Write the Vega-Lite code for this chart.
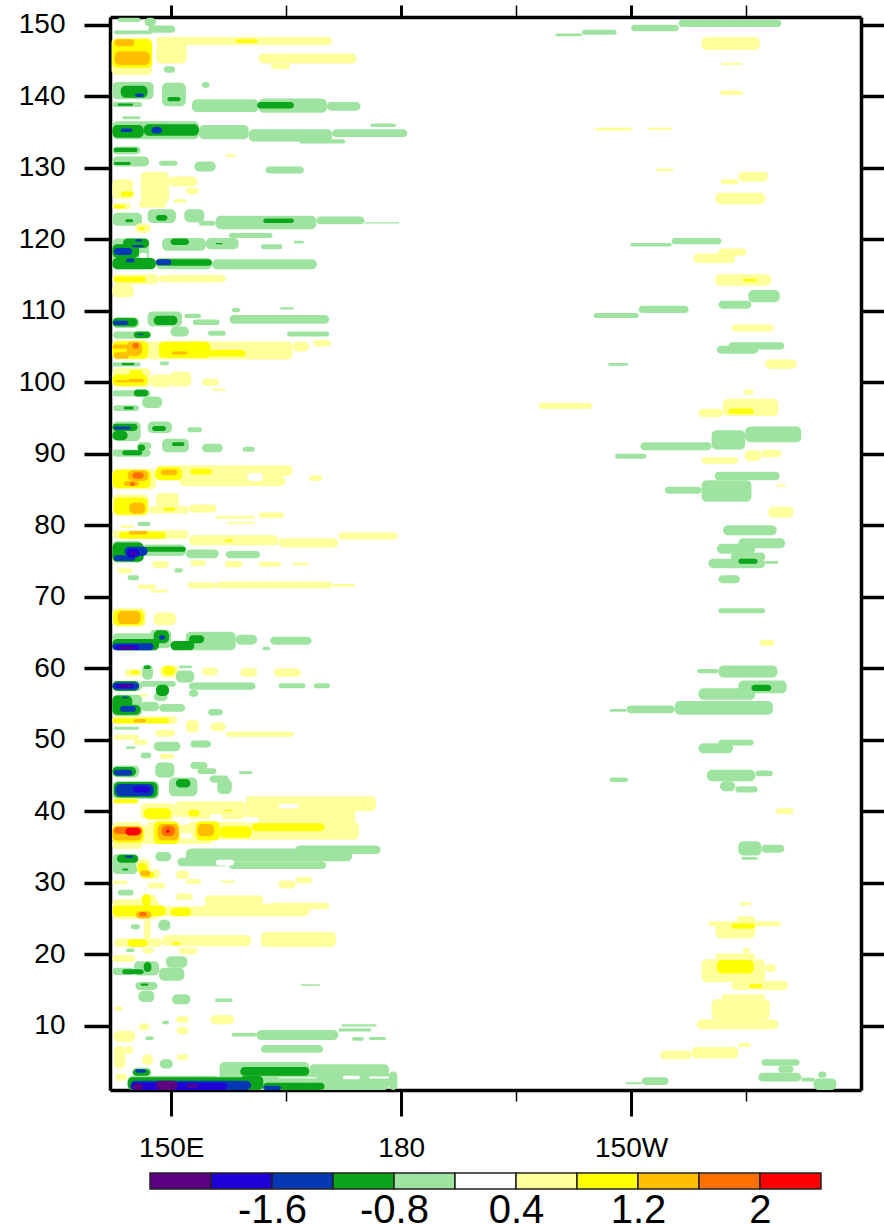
{"$schema":"https://vega.github.io/schema/vega-lite/v6.json","padding":{"left":18,"top":3,"right":0,"bottom":0},"background":"white","autosize":{"type":"pad"},"spacing":10,"config":{"font":"Liberation Sans","view":{"stroke":null}},"vconcat":[{"width":751,"height":1073,"data":{"name":"cells","values":[
{"lon0":143,"lon1":146,"day0":150.4,"day1":151,"level":-1},{"lon0":146.5,"lon1":148,"day0":149.8,"day1":151,"level":-1},{"lon0":147,"lon1":150.5,"day0":148.9,"day1":149.9,"level":-1},{"lon0":142.5,"lon1":147.5,"day0":148.7,"day1":149.2,"level":-1},
{"lon0":142.2,"lon1":147.5,"day0":143,"day1":148.2,"level":1},{"lon0":148,"lon1":171,"day0":147.2,"day1":148.3,"level":1},{"lon0":148,"lon1":152,"day0":144.6,"day1":147.5,"level":1},{"lon0":161.4,"lon1":174.2,"day0":144.6,"day1":146,"level":1},{"lon0":163,"lon1":165.5,"day0":143.8,"day1":144.6,"level":1},{"lon0":149,"lon1":150.5,"day0":143.3,"day1":144.2,"level":-1},{"lon0":154,"lon1":155,"day0":141.2,"day1":142,"level":-1},
{"lon0":142.3,"lon1":147.7,"day0":139.6,"day1":142,"level":-1},{"lon0":142.3,"lon1":146.2,"day0":138.5,"day1":139.2,"level":-1},{"lon0":148.8,"lon1":151.9,"day0":138.6,"day1":141.9,"level":-1},{"lon0":152.7,"lon1":161.4,"day0":137.8,"day1":139.6,"level":-1},{"lon0":161.4,"lon1":170.3,"day0":137.7,"day1":139.7,"level":-1},{"lon0":170.3,"lon1":174.7,"day0":138,"day1":139.2,"level":-1},{"lon0":143.6,"lon1":146,"day0":136.8,"day1":137.2,"level":-1},
{"lon0":142.3,"lon1":153.6,"day0":134,"day1":136.5,"level":-1},{"lon0":153.6,"lon1":160.1,"day0":134,"day1":136,"level":-1},{"lon0":160.1,"lon1":171,"day0":133.7,"day1":135.4,"level":-1},{"lon0":171,"lon1":180.8,"day0":134.3,"day1":135.4,"level":-1},{"lon0":176,"lon1":179.3,"day0":135.7,"day1":136.2,"level":-1},{"lon0":166.7,"lon1":172.7,"day0":133.4,"day1":134,"level":-1},
{"lon0":142.3,"lon1":146,"day0":131.9,"day1":133,"level":-1},{"lon0":142.3,"lon1":147.1,"day0":130.2,"day1":131.6,"level":-1},{"lon0":148.4,"lon1":150.8,"day0":130.3,"day1":131,"level":-1},{"lon0":153,"lon1":155.8,"day0":129.5,"day1":130.9,"level":-1},{"lon0":162.3,"lon1":167.3,"day0":129.2,"day1":130.2,"level":-1},
{"lon0":157.1,"lon1":158.4,"day0":131.5,"day1":131.9,"level":1},{"lon0":146,"lon1":149.7,"day0":125,"day1":129.4,"level":1},{"lon0":149.7,"lon1":153.4,"day0":127.4,"day1":128.8,"level":1},{"lon0":142.3,"lon1":145,"day0":125.6,"day1":128.4,"level":1},{"lon0":145.8,"lon1":149.3,"day0":124.4,"day1":125.3,"level":1},{"lon0":142.3,"lon1":144.7,"day0":124.2,"day1":125.1,"level":1},{"lon0":150.3,"lon1":152,"day0":125.1,"day1":125.6,"level":1},{"lon0":151.9,"lon1":153.6,"day0":126.3,"day1":127.2,"level":1},
{"lon0":142.3,"lon1":146.2,"day0":121.9,"day1":123.7,"level":-1},{"lon0":146.9,"lon1":150.6,"day0":122.3,"day1":124.2,"level":-1},{"lon0":151.7,"lon1":154.3,"day0":122.4,"day1":124.2,"level":-1},{"lon0":153.6,"lon1":155.8,"day0":121.9,"day1":122.6,"level":-1},{"lon0":155.8,"lon1":168.9,"day0":121.4,"day1":123.3,"level":-1},{"lon0":168.9,"lon1":175.2,"day0":122.1,"day1":123.2,"level":-1},{"lon0":175.2,"lon1":179.7,"day0":122.2,"day1":122.4,"level":-1},{"lon0":145.3,"lon1":147.3,"day0":120.9,"day1":122.2,"level":1},
{"lon0":142.3,"lon1":147.1,"day0":115.8,"day1":120.1,"level":-1},{"lon0":155.3,"lon1":169,"day0":115.8,"day1":117.2,"level":-1},{"lon0":148,"lon1":155.3,"day0":115.8,"day1":117.4,"level":-1},{"lon0":148.8,"lon1":154.5,"day0":118.4,"day1":120.2,"level":-1},{"lon0":154.5,"lon1":158.8,"day0":118.6,"day1":120.2,"level":-1},{"lon0":157.5,"lon1":163.2,"day0":120.2,"day1":120.9,"level":-1},{"lon0":161.7,"lon1":164.5,"day0":118.6,"day1":119.3,"level":-1},{"lon0":166,"lon1":167.3,"day0":119.4,"day1":119.8,"level":-1},
{"lon0":142.3,"lon1":148.4,"day0":113.7,"day1":115.1,"level":1},{"lon0":148.4,"lon1":157.1,"day0":114,"day1":115,"level":1},{"lon0":142.3,"lon1":145.1,"day0":111.9,"day1":113.7,"level":1},
{"lon0":142.3,"lon1":145.8,"day0":107.6,"day1":109.1,"level":-1},{"lon0":146.9,"lon1":151.4,"day0":107.8,"day1":109.9,"level":-1},{"lon0":149.9,"lon1":152.3,"day0":106.4,"day1":107.8,"level":-1},{"lon0":151.7,"lon1":153.9,"day0":109,"day1":109.6,"level":-1},{"lon0":152.8,"lon1":156.3,"day0":108,"day1":108.8,"level":-1},{"lon0":157.6,"lon1":170.6,"day0":108.2,"day1":109.4,"level":-1},{"lon0":157.9,"lon1":159,"day0":109.8,"day1":110.4,"level":-1},{"lon0":164.2,"lon1":166,"day0":110.2,"day1":110.5,"level":-1},{"lon0":165.1,"lon1":170.6,"day0":106.4,"day1":107.1,"level":-1},{"lon0":154.8,"lon1":157.1,"day0":106.5,"day1":107.2,"level":-1},{"lon0":142.4,"lon1":147.3,"day0":106.1,"day1":107.1,"level":-1},
{"lon0":142.3,"lon1":147.1,"day0":103.2,"day1":105.9,"level":1},{"lon0":146.8,"lon1":165.8,"day0":103.2,"day1":105.7,"level":1},{"lon0":165.8,"lon1":168,"day0":104.3,"day1":105.7,"level":1},{"lon0":168.5,"lon1":170.8,"day0":105,"day1":105.9,"level":1},{"lon0":142.3,"lon1":146,"day0":102.2,"day1":102.8,"level":-1},{"lon0":148.5,"lon1":149.7,"day0":102.4,"day1":102.9,"level":-1},
{"lon0":142.3,"lon1":147.3,"day0":99.3,"day1":102,"level":1},{"lon0":147.3,"lon1":150,"day0":99.3,"day1":101.1,"level":1},{"lon0":149.8,"lon1":152.6,"day0":99.4,"day1":101.5,"level":1},{"lon0":154,"lon1":156.2,"day0":99.5,"day1":100.5,"level":1},{"lon0":155.3,"lon1":157.1,"day0":98.8,"day1":99.1,"level":1},
{"lon0":142.3,"lon1":147.3,"day0":98,"day1":98.9,"level":-1},{"lon0":146.2,"lon1":148.8,"day0":96.4,"day1":98,"level":-1},{"lon0":142.4,"lon1":145.8,"day0":96,"day1":96.8,"level":-1},{"lon0":142.3,"lon1":146,"day0":91.8,"day1":94.5,"level":-1},{"lon0":146.9,"lon1":150.1,"day0":92.9,"day1":94.5,"level":-1},{"lon0":152.1,"lon1":154,"day0":93,"day1":93.7,"level":-1},{"lon0":142.3,"lon1":147.3,"day0":89.6,"day1":90.6,"level":-1},{"lon0":145.6,"lon1":147.4,"day0":90.6,"day1":91.6,"level":-1},{"lon0":148.8,"lon1":152.3,"day0":90.2,"day1":92.1,"level":-1},{"lon0":154,"lon1":156.7,"day0":90.2,"day1":91.4,"level":-1},{"lon0":159.3,"lon1":160.9,"day0":90.3,"day1":91,"level":-1},
{"lon0":142.3,"lon1":148,"day0":85,"day1":87.8,"level":1},{"lon0":148,"lon1":165.8,"day0":86.9,"day1":88.4,"level":1},{"lon0":151,"lon1":164.9,"day0":85.5,"day1":86.9,"level":1},{"lon0":168,"lon1":169.7,"day0":86.2,"day1":87,"level":1},{"lon0":142.3,"lon1":147.1,"day0":81.3,"day1":84.3,"level":1},{"lon0":148,"lon1":151,"day0":82.5,"day1":84.5,"level":1},{"lon0":147.1,"lon1":152.3,"day0":81.6,"day1":82.7,"level":1},{"lon0":152.3,"lon1":155.9,"day0":81.8,"day1":82.9,"level":1},{"lon0":155.8,"lon1":160.9,"day0":80.9,"day1":81.3,"level":1},{"lon0":161.4,"lon1":164.7,"day0":81,"day1":81.8,"level":1},{"lon0":157.2,"lon1":160.9,"day0":80.2,"day1":80.5,"level":1},{"lon0":145.6,"lon1":147.3,"day0":79.9,"day1":80.5,"level":-1},{"lon0":143.4,"lon1":145.1,"day0":79.6,"day1":80,"level":1},
{"lon0":142.3,"lon1":152.3,"day0":78.1,"day1":79.3,"level":1},{"lon0":152.3,"lon1":164,"day0":77.2,"day1":78.6,"level":1},{"lon0":164,"lon1":171.8,"day0":76.9,"day1":78.2,"level":1},{"lon0":171.8,"lon1":179.5,"day0":78,"day1":79,"level":1},
{"lon0":142.3,"lon1":146.2,"day0":74.8,"day1":77.8,"level":-1},{"lon0":146.2,"lon1":151.9,"day0":75.7,"day1":77.3,"level":-1},{"lon0":151.9,"lon1":156.2,"day0":75.4,"day1":76.6,"level":-1},{"lon0":157.1,"lon1":161.6,"day0":75.4,"day1":76.4,"level":-1},
{"lon0":147.5,"lon1":149.7,"day0":74,"day1":75,"level":1},{"lon0":152.5,"lon1":154.5,"day0":74.3,"day1":75.1,"level":1},{"lon0":157,"lon1":159.3,"day0":74.1,"day1":75,"level":1},{"lon0":161.4,"lon1":164.3,"day0":74.2,"day1":74.9,"level":1},{"lon0":165.8,"lon1":168,"day0":74.4,"day1":74.8,"level":1},{"lon0":143,"lon1":144.9,"day0":73.3,"day1":74,"level":1},{"lon0":150.4,"lon1":151.5,"day0":73.4,"day1":74,"level":-1},{"lon0":144.3,"lon1":145.8,"day0":72.3,"day1":73,"level":-1},
{"lon0":145.6,"lon1":148,"day0":71.1,"day1":71.7,"level":1},{"lon0":152.1,"lon1":155.8,"day0":71.2,"day1":72,"level":1},{"lon0":155.8,"lon1":171,"day0":71.2,"day1":72.1,"level":1},{"lon0":171,"lon1":174,"day0":71.4,"day1":71.8,"level":1},{"lon0":147.3,"lon1":149.5,"day0":70.6,"day1":71,"level":1},
{"lon0":142.3,"lon1":146.7,"day0":65.8,"day1":68.4,"level":1},{"lon0":147.7,"lon1":150.6,"day0":66,"day1":67.8,"level":1},
{"lon0":142.3,"lon1":148.4,"day0":62.5,"day1":64.9,"level":-1},{"lon0":147.2,"lon1":150,"day0":62.8,"day1":65.4,"level":-1},{"lon0":151.9,"lon1":158.4,"day0":62.5,"day1":65.1,"level":-1},{"lon0":158.4,"lon1":161.2,"day0":63.3,"day1":64.7,"level":-1},{"lon0":162.9,"lon1":168.3,"day0":63.3,"day1":64.4,"level":-1},{"lon0":161.9,"lon1":162.9,"day0":62.5,"day1":63,"level":-1},
{"lon0":143.9,"lon1":146.2,"day0":58.8,"day1":59.9,"level":1},{"lon0":146.2,"lon1":147.6,"day0":58.4,"day1":60.5,"level":-1},{"lon0":148.5,"lon1":151,"day0":58.7,"day1":60.4,"level":1},{"lon0":151,"lon1":152.7,"day0":60,"day1":60.4,"level":-1},{"lon0":150.6,"lon1":153,"day0":58,"day1":59.7,"level":-1},{"lon0":154,"lon1":156.1,"day0":59,"day1":60.1,"level":1},{"lon0":159,"lon1":161.2,"day0":58.8,"day1":60,"level":1},{"lon0":163.4,"lon1":166.9,"day0":58.8,"day1":60,"level":1},
{"lon0":142.3,"lon1":146.2,"day0":56.8,"day1":58.2,"level":-1},{"lon0":146,"lon1":150.6,"day0":57.4,"day1":58.2,"level":-1},{"lon0":147.7,"lon1":149.5,"day0":55.4,"day1":56.6,"level":-1},{"lon0":152.3,"lon1":161,"day0":57,"day1":58,"level":-1},{"lon0":152.3,"lon1":153.5,"day0":56,"day1":57,"level":-1},{"lon0":164,"lon1":167.5,"day0":57.2,"day1":57.9,"level":-1},{"lon0":168.6,"lon1":170.7,"day0":57.2,"day1":57.9,"level":-1},{"lon0":145.7,"lon1":146.9,"day0":56,"day1":56.4,"level":1},
{"lon0":142.3,"lon1":146.2,"day0":53.3,"day1":56.3,"level":-1},{"lon0":146,"lon1":148.4,"day0":54,"day1":55.3,"level":-1},{"lon0":148.4,"lon1":151.8,"day0":53.9,"day1":55,"level":-1},{"lon0":154.8,"lon1":156.7,"day0":53.4,"day1":54.3,"level":-1},
{"lon0":142.3,"lon1":150.8,"day0":52.2,"day1":53.3,"level":1},{"lon0":151.9,"lon1":153.6,"day0":51,"day1":52.8,"level":1},{"lon0":155.1,"lon1":157.1,"day0":51.2,"day1":52.4,"level":1},{"lon0":157.1,"lon1":166,"day0":50.4,"day1":51.1,"level":1},{"lon0":142.5,"lon1":145.8,"day0":51.4,"day1":51.8,"level":-1},{"lon0":147.9,"lon1":150.5,"day0":50.4,"day1":51.4,"level":1},{"lon0":142.5,"lon1":145.8,"day0":50,"day1":50.7,"level":1},{"lon0":145.1,"lon1":146.9,"day0":49.3,"day1":50,"level":1},
{"lon0":147.7,"lon1":151.2,"day0":48.4,"day1":49.7,"level":-1},{"lon0":152.5,"lon1":155.2,"day0":48.9,"day1":49.9,"level":-1},{"lon0":144.1,"lon1":145.3,"day0":48.7,"day1":49.1,"level":-1},{"lon0":146,"lon1":147.4,"day0":47.4,"day1":48.2,"level":-1},{"lon0":148.5,"lon1":150.4,"day0":47.3,"day1":48,"level":1},
{"lon0":142.3,"lon1":145.8,"day0":44.7,"day1":46.4,"level":-1},{"lon0":147.9,"lon1":150.4,"day0":44.7,"day1":46.8,"level":-1},{"lon0":149.7,"lon1":153.4,"day0":42.1,"day1":44.7,"level":-1},{"lon0":152.5,"lon1":154.7,"day0":45.9,"day1":46.9,"level":-1},{"lon0":153.4,"lon1":155.9,"day0":45.2,"day1":46,"level":-1},{"lon0":155,"lon1":157.5,"day0":44,"day1":45,"level":-1},{"lon0":156,"lon1":157.9,"day0":42.4,"day1":44.5,"level":-1},{"lon0":158.8,"lon1":160.6,"day0":45.2,"day1":45.6,"level":-1},{"lon0":142.3,"lon1":148.4,"day0":41.7,"day1":44.2,"level":-1},{"lon0":142.3,"lon1":145.8,"day0":41.1,"day1":41.8,"level":1},
{"lon0":159.7,"lon1":176.7,"day0":40,"day1":42.1,"level":1},{"lon0":146,"lon1":150.4,"day0":38.7,"day1":41.1,"level":1},{"lon0":150.4,"lon1":159.7,"day0":38.9,"day1":41.4,"level":1},{"lon0":159.7,"lon1":174,"day0":38,"day1":40.3,"level":1},{"lon0":142.3,"lon1":174.5,"day0":36,"day1":38.5,"level":1},{"lon0":142.3,"lon1":146.2,"day0":34.7,"day1":36,"level":1},{"lon0":146.2,"lon1":155.3,"day0":35.4,"day1":36,"level":1},
{"lon0":142.3,"lon1":145.6,"day0":31.2,"day1":34,"level":-1},{"lon0":147.9,"lon1":150,"day0":33,"day1":34.3,"level":-1},{"lon0":150.8,"lon1":157.5,"day0":32.3,"day1":33.5,"level":-1},{"lon0":151.9,"lon1":173.6,"day0":33,"day1":34.8,"level":-1},{"lon0":157.5,"lon1":170.2,"day0":31.9,"day1":33,"level":-1},{"lon0":166.2,"lon1":177.3,"day0":34,"day1":35.2,"level":-1},
{"lon0":145.4,"lon1":147.3,"day0":31.7,"day1":33.3,"level":1},{"lon0":146,"lon1":148.6,"day0":30.5,"day1":31.9,"level":1},{"lon0":150.6,"lon1":152.3,"day0":30.5,"day1":31.7,"level":1},{"lon0":151.9,"lon1":153.9,"day0":29.8,"day1":30.5,"level":1},{"lon0":146.9,"lon1":149.2,"day0":29.2,"day1":30,"level":1},{"lon0":142.3,"lon1":144.3,"day0":29.8,"day1":30.3,"level":1},{"lon0":156.4,"lon1":158.3,"day0":30,"day1":30.3,"level":1},{"lon0":164,"lon1":166.2,"day0":29.2,"day1":30.3,"level":1},{"lon0":166.2,"lon1":168.4,"day0":29.9,"day1":30.8,"level":1},{"lon0":143,"lon1":145.1,"day0":28.2,"day1":29,"level":-1},
{"lon0":142.3,"lon1":148.4,"day0":24.9,"day1":27.7,"level":1},{"lon0":146,"lon1":148,"day0":27,"day1":28.4,"level":1},{"lon0":150.6,"lon1":152.8,"day0":27.6,"day1":28.5,"level":1},{"lon0":148.4,"lon1":168,"day0":25.3,"day1":26.7,"level":1},{"lon0":154.3,"lon1":162,"day0":27,"day1":28.2,"level":1},{"lon0":154.3,"lon1":162.9,"day0":26.5,"day1":27.1,"level":1},{"lon0":162.9,"lon1":170.6,"day0":26.3,"day1":27.2,"level":1},{"lon0":148.3,"lon1":149.9,"day0":23.3,"day1":24.8,"level":-1},{"lon0":144.7,"lon1":145.9,"day0":23.5,"day1":24.2,"level":-1},
{"lon0":146.4,"lon1":147.3,"day0":22.1,"day1":24.9,"level":1},{"lon0":142.5,"lon1":148.8,"day0":21,"day1":22.2,"level":1},{"lon0":148.8,"lon1":160.4,"day0":21.1,"day1":22.7,"level":1},{"lon0":161.7,"lon1":171.5,"day0":21,"day1":23.1,"level":1},{"lon0":146.2,"lon1":147.7,"day0":20.1,"day1":20.9,"level":1},{"lon0":144.1,"lon1":145.2,"day0":20.3,"day1":20.8,"level":-1},{"lon0":151,"lon1":153.4,"day0":20,"day1":20.9,"level":1},{"lon0":142.3,"lon1":145.3,"day0":18.9,"day1":19.9,"level":1},
{"lon0":142.3,"lon1":145.1,"day0":17.1,"day1":18.1,"level":-1},{"lon0":145.1,"lon1":148.4,"day0":17,"day1":19,"level":-1},{"lon0":149.3,"lon1":152.1,"day0":18.1,"day1":19.7,"level":-1},{"lon0":148.4,"lon1":151.7,"day0":16.3,"day1":18.1,"level":-1},{"lon0":166.9,"lon1":169.4,"day0":15.6,"day1":15.8,"level":-1},{"lon0":145.3,"lon1":148.2,"day0":15,"day1":16.1,"level":-1},{"lon0":145.7,"lon1":147.8,"day0":13.3,"day1":14.9,"level":-1},{"lon0":150.1,"lon1":152.5,"day0":13,"day1":14.4,"level":-1},{"lon0":155.7,"lon1":158,"day0":13.3,"day1":13.8,"level":-1},
{"lon0":142.6,"lon1":143.6,"day0":12.1,"day1":12.7,"level":1},{"lon0":155.1,"lon1":158.2,"day0":10.2,"day1":11.5,"level":1},{"lon0":150.6,"lon1":152.3,"day0":10.4,"day1":11.3,"level":1},{"lon0":145.8,"lon1":147.1,"day0":9.3,"day1":10.3,"level":1},{"lon0":148.8,"lon1":149.7,"day0":10.2,"day1":10.7,"level":-1},{"lon0":150.7,"lon1":152.2,"day0":8.8,"day1":9.8,"level":1},{"lon0":142.5,"lon1":145.3,"day0":7.7,"day1":9.3,"level":1},{"lon0":146.6,"lon1":147.7,"day0":8,"day1":8.5,"level":-1},{"lon0":142.5,"lon1":144,"day0":4,"day1":7.2,"level":1},{"lon0":144,"lon1":145,"day0":6,"day1":7.2,"level":1},{"lon0":146.2,"lon1":147.6,"day0":4.5,"day1":6,"level":1},{"lon0":150.7,"lon1":152.2,"day0":5.2,"day1":6,"level":1},{"lon0":148.5,"lon1":150.2,"day0":4,"day1":5.3,"level":-1},{"lon0":142.7,"lon1":144.2,"day0":2.3,"day1":3.3,"level":1},
{"lon0":157.9,"lon1":161.1,"day0":8.5,"day1":9,"level":-1},{"lon0":161.1,"lon1":171.8,"day0":8,"day1":9.4,"level":-1},{"lon0":171.8,"lon1":176.1,"day0":9.2,"day1":9.6,"level":-1},{"lon0":172.2,"lon1":176.8,"day0":9.9,"day1":10.2,"level":-1},{"lon0":173.6,"lon1":175.1,"day0":7.9,"day1":8.4,"level":-1},{"lon0":175.8,"lon1":178,"day0":8,"day1":8.4,"level":-1},{"lon0":161.7,"lon1":169.8,"day0":6.2,"day1":7.3,"level":-1},
{"lon0":144.3,"lon1":156.3,"day0":1,"day1":3,"level":-1},{"lon0":156.3,"lon1":168,"day0":1,"day1":4.9,"level":-1},{"lon0":168,"lon1":178.4,"day0":1,"day1":4.6,"level":-1},{"lon0":178.4,"lon1":179.5,"day0":1,"day1":3.6,"level":-1},{"lon0":144.9,"lon1":147.4,"day0":2.9,"day1":4.1,"level":-1},
{"lon0":200.1,"lon1":203.6,"day0":148.4,"day1":148.8,"level":-1},{"lon0":203.6,"lon1":208.1,"day0":148.6,"day1":149.3,"level":-1},{"lon0":210,"lon1":216.2,"day0":149.1,"day1":150,"level":-1},{"lon0":216.2,"lon1":229.6,"day0":149.7,"day1":150.7,"level":-1},{"lon0":219.2,"lon1":226.8,"day0":146.5,"day1":148.3,"level":1},{"lon0":221.8,"lon1":224.4,"day0":144.4,"day1":144.7,"level":1},{"lon0":221.6,"lon1":224.6,"day0":140.2,"day1":140.8,"level":1},{"lon0":205.3,"lon1":210.1,"day0":135.2,"day1":135.6,"level":1},{"lon0":212.2,"lon1":215.3,"day0":135.3,"day1":135.6,"level":1},{"lon0":213.2,"lon1":215.5,"day0":129.6,"day1":129.9,"level":1},{"lon0":221.7,"lon1":224,"day0":127.7,"day1":128.4,"level":1},{"lon0":224,"lon1":227.9,"day0":128.1,"day1":129.4,"level":1},{"lon0":221,"lon1":227.5,"day0":124.9,"day1":126.5,"level":1},{"lon0":209.9,"lon1":215.3,"day0":119,"day1":119.5,"level":-1},{"lon0":215.3,"lon1":221.8,"day0":119.3,"day1":120.2,"level":-1},{"lon0":218.1,"lon1":223.6,"day0":116.7,"day1":118,"level":1},{"lon0":221.4,"lon1":225,"day0":117.7,"day1":118.7,"level":1},{"lon0":221,"lon1":228.3,"day0":113.5,"day1":115.1,"level":1},{"lon0":225.3,"lon1":229.4,"day0":111.2,"day1":112.9,"level":-1},{"lon0":221.4,"lon1":225.7,"day0":110.3,"day1":111.4,"level":-1},{"lon0":205.1,"lon1":211,"day0":109,"day1":109.7,"level":-1},{"lon0":211,"lon1":217.5,"day0":109.7,"day1":110.7,"level":-1},{"lon0":223.1,"lon1":228.6,"day0":107.1,"day1":108.1,"level":1},{"lon0":221.2,"lon1":226.6,"day0":104,"day1":105.1,"level":-1},{"lon0":222.7,"lon1":230,"day0":104.6,"day1":105.6,"level":-1},{"lon0":227.5,"lon1":231.6,"day0":101.9,"day1":103.2,"level":1},{"lon0":207,"lon1":209.6,"day0":102.3,"day1":102.7,"level":-1},{"lon0":224.7,"lon1":226,"day0":98.3,"day1":99,"level":1},{"lon0":222,"lon1":229.2,"day0":95.3,"day1":97.7,"level":1},{"lon0":218.8,"lon1":222,"day0":95.1,"day1":96.3,"level":1},{"lon0":197.9,"lon1":204.9,"day0":96.3,"day1":97.1,"level":1},
{"lon0":211.2,"lon1":220.5,"day0":90.5,"day1":91.6,"level":-1},{"lon0":220.5,"lon1":224.9,"day0":90.6,"day1":93.3,"level":-1},{"lon0":224.9,"lon1":232.2,"day0":91.6,"day1":93.8,"level":-1},{"lon0":207.9,"lon1":212,"day0":89.3,"day1":90,"level":-1},{"lon0":219.2,"lon1":224,"day0":88.6,"day1":89.5,"level":1},{"lon0":224.8,"lon1":227,"day0":89,"day1":90.5,"level":1},{"lon0":227,"lon1":229.6,"day0":89.5,"day1":90.6,"level":1},{"lon0":220.9,"lon1":229.4,"day0":86.3,"day1":87.5,"level":-1},{"lon0":219.2,"lon1":225.7,"day0":83.3,"day1":86.3,"level":-1},{"lon0":214.4,"lon1":219.2,"day0":84.4,"day1":85.4,"level":-1},{"lon0":229,"lon1":230.2,"day0":85.4,"day1":85.7,"level":1},{"lon0":227.9,"lon1":231.2,"day0":81.1,"day1":82.6,"level":1},{"lon0":222,"lon1":229,"day0":78.6,"day1":80,"level":-1},{"lon0":224,"lon1":230.1,"day0":76.8,"day1":78.2,"level":-1},{"lon0":221.2,"lon1":226.2,"day0":76,"day1":77.4,"level":-1},{"lon0":220.1,"lon1":227.5,"day0":74,"day1":75.3,"level":-1},{"lon0":223,"lon1":227.5,"day0":75,"day1":76.2,"level":-1},{"lon0":227.5,"lon1":229.2,"day0":74.6,"day1":75,"level":-1},{"lon0":221.4,"lon1":224.2,"day0":71.9,"day1":73,"level":-1},{"lon0":221.4,"lon1":227.5,"day0":67.7,"day1":68.4,"level":-1},{"lon0":226.8,"lon1":228.7,"day0":63.1,"day1":64,"level":1},{"lon0":221.4,"lon1":229.1,"day0":58.7,"day1":60.4,"level":-1},{"lon0":218.6,"lon1":221.4,"day0":59.3,"day1":59.9,"level":-1},{"lon0":224,"lon1":230.3,"day0":56.5,"day1":58.3,"level":-1},{"lon0":218.8,"lon1":226.2,"day0":55.6,"day1":57.2,"level":-1},{"lon0":215.7,"lon1":228.5,"day0":53.5,"day1":55.4,"level":-1},{"lon0":209.4,"lon1":215.7,"day0":53.7,"day1":54.8,"level":-1},{"lon0":207.2,"lon1":209.4,"day0":53.9,"day1":54.3,"level":-1},{"lon0":218.8,"lon1":223.3,"day0":48.1,"day1":49.5,"level":-1},{"lon0":221.4,"lon1":226,"day0":49.2,"day1":50,"level":-1},{"lon0":219.9,"lon1":226.2,"day0":44.2,"day1":45.8,"level":-1},{"lon0":226.2,"lon1":228.5,"day0":44.9,"day1":45.7,"level":-1},{"lon0":221.6,"lon1":223.6,"day0":42.8,"day1":44.2,"level":-1},{"lon0":223.6,"lon1":226.5,"day0":42.6,"day1":43.5,"level":-1},{"lon0":207.2,"lon1":209.6,"day0":44.1,"day1":44.7,"level":-1},{"lon0":228.9,"lon1":231.2,"day0":39.6,"day1":40.4,"level":1},
{"lon0":224,"lon1":227,"day0":33.8,"day1":35.8,"level":-1},{"lon0":227,"lon1":230,"day0":34.2,"day1":35.3,"level":-1},{"lon0":224.4,"lon1":226.5,"day0":33.2,"day1":33.6,"level":-1},{"lon0":224.2,"lon1":225.7,"day0":26.8,"day1":27.3,"level":1},{"lon0":221,"lon1":226.2,"day0":22.2,"day1":24.4,"level":1},{"lon0":223.8,"lon1":226.2,"day0":24.4,"day1":25.3,"level":1},{"lon0":220.1,"lon1":229.6,"day0":23.9,"day1":24.6,"level":1},{"lon0":219.2,"lon1":227.5,"day0":16.1,"day1":19.3,"level":1},{"lon0":221,"lon1":226.2,"day0":19.3,"day1":20.1,"level":1},{"lon0":224.6,"lon1":225.5,"day0":20.1,"day1":20.9,"level":1},{"lon0":227.5,"lon1":228.9,"day0":17.5,"day1":18.6,"level":1},{"lon0":223.1,"lon1":230.5,"day0":15,"day1":16.3,"level":1},{"lon0":220.5,"lon1":228.1,"day0":10.9,"day1":13.7,"level":1},{"lon0":221.8,"lon1":227.5,"day0":13.7,"day1":14.4,"level":1},{"lon0":218.6,"lon1":229.2,"day0":9.5,"day1":10.9,"level":1},{"lon0":213.8,"lon1":217.9,"day0":5.3,"day1":6.5,"level":1},{"lon0":217.9,"lon1":224,"day0":5.4,"day1":7,"level":1},{"lon0":224,"lon1":225.6,"day0":7,"day1":7.6,"level":1},{"lon0":211.4,"lon1":214.9,"day0":1.7,"day1":2.8,"level":-1},{"lon0":209.3,"lon1":211.4,"day0":1.8,"day1":2.1,"level":-1},{"lon0":227,"lon1":232,"day0":4.4,"day1":5.3,"level":-1},{"lon0":229.2,"lon1":231.2,"day0":3.4,"day1":4.4,"level":-1},{"lon0":226.6,"lon1":232.2,"day0":2.2,"day1":3.4,"level":-1},{"lon0":233.8,"lon1":236.8,"day0":1,"day1":2.6,"level":-1},{"lon0":232.2,"lon1":234,"day0":2.2,"day1":2.7,"level":-1},{"lon0":234.4,"lon1":235.5,"day0":2.7,"day1":3.6,"level":-1},
{"lon0":145.8,"lon1":146.9,"day0":117.3,"day1":118.1,"level":0},{"lon0":159.9,"lon1":162,"day0":86.2,"day1":87.3,"level":0},{"lon0":164,"lon1":166.6,"day0":40.4,"day1":41,"level":0},{"lon0":159.3,"lon1":161.4,"day0":38.4,"day1":39.2,"level":0},{"lon0":155,"lon1":156.7,"day0":38.7,"day1":39.6,"level":0},{"lon0":150.4,"lon1":152.5,"day0":38.1,"day1":39.2,"level":0},{"lon0":151.2,"lon1":152.7,"day0":36.2,"day1":36.9,"level":0},{"lon0":146,"lon1":147,"day0":38,"day1":39,"level":0},{"lon0":155.8,"lon1":158.2,"day0":32.4,"day1":33.2,"level":0},{"lon0":164,"lon1":169,"day0":2.65,"day1":2.8,"level":0},{"lon0":172.4,"lon1":174.6,"day0":2.5,"day1":3,"level":0},{"lon0":175.8,"lon1":178.4,"day0":2.6,"day1":2.9,"level":0},
{"lon0":142.3,"lon1":147.5,"day0":144,"day1":148,"level":2},{"lon0":158.4,"lon1":161.2,"day0":147.5,"day1":148,"level":2},{"lon0":143.4,"lon1":145.1,"day0":126,"day1":126.7,"level":2},{"lon0":142.5,"lon1":144,"day0":124.3,"day1":124.8,"level":2},{"lon0":145.7,"lon1":146.6,"day0":121.3,"day1":121.7,"level":2},{"lon0":142.5,"lon1":146.7,"day0":114,"day1":114.8,"level":2},{"lon0":142.3,"lon1":147,"day0":103.3,"day1":105.7,"level":2},{"lon0":148.4,"lon1":159.7,"day0":103.6,"day1":104.5,"level":2},{"lon0":148.4,"lon1":155.1,"day0":103.4,"day1":105.7,"level":2},{"lon0":142.3,"lon1":146.9,"day0":99.5,"day1":101.1,"level":2},{"lon0":144.5,"lon1":146.3,"day0":101,"day1":101.7,"level":2},
{"lon0":142.3,"lon1":147.3,"day0":85.2,"day1":87.8,"level":2},{"lon0":147.9,"lon1":151.4,"day0":86.3,"day1":88.1,"level":2},{"lon0":152.5,"lon1":155.3,"day0":87.1,"day1":87.9,"level":2},{"lon0":142.5,"lon1":146.9,"day0":81.5,"day1":83.9,"level":2},{"lon0":149,"lon1":150.5,"day0":82,"day1":82.5,"level":2},{"lon0":143.2,"lon1":149.3,"day0":78.1,"day1":79.1,"level":2},{"lon0":157,"lon1":158,"day0":77.7,"day1":78,"level":2},{"lon0":142.4,"lon1":146.4,"day0":66,"day1":68.1,"level":2},{"lon0":144.7,"lon1":145.8,"day0":59.2,"day1":59.7,"level":2},{"lon0":148.9,"lon1":150.5,"day0":59,"day1":60.3,"level":2},{"lon0":142.3,"lon1":149.7,"day0":52.3,"day1":53,"level":2},{"lon0":142.5,"lon1":145.6,"day0":41.1,"day1":41.7,"level":2},
{"lon0":146.4,"lon1":150,"day0":38.9,"day1":40.4,"level":2},{"lon0":152.2,"lon1":153.7,"day0":39.3,"day1":40.2,"level":2},{"lon0":142.3,"lon1":146.4,"day0":35.6,"day1":37.9,"level":2},{"lon0":147.7,"lon1":151,"day0":35.4,"day1":38.6,"level":2},{"lon0":153.2,"lon1":156.3,"day0":35.9,"day1":38.6,"level":2},{"lon0":156.3,"lon1":160.5,"day0":36.3,"day1":37.9,"level":2},{"lon0":160.5,"lon1":170,"day0":37.2,"day1":38.3,"level":2},{"lon0":157,"lon1":158,"day0":40,"day1":40.2,"level":2},{"lon0":145.6,"lon1":146.9,"day0":31.2,"day1":32.8,"level":2},{"lon0":146,"lon1":147.8,"day0":30.7,"day1":31.5,"level":2},
{"lon0":142.3,"lon1":149.3,"day0":25.3,"day1":26.8,"level":2},{"lon0":146.2,"lon1":147.3,"day0":26.7,"day1":28.4,"level":2},{"lon0":149.9,"lon1":152.6,"day0":25.3,"day1":26.5,"level":2},{"lon0":144.3,"lon1":146.9,"day0":21,"day1":22.1,"level":2},{"lon0":150.2,"lon1":151.2,"day0":21.3,"day1":21.7,"level":2},
{"lon0":222.7,"lon1":226,"day0":95.6,"day1":96.3,"level":2},{"lon0":224.6,"lon1":226.4,"day0":114.1,"day1":114.5,"level":2},{"lon0":223.1,"lon1":226.2,"day0":23.6,"day1":24.3,"level":2},{"lon0":221.2,"lon1":226,"day0":17.3,"day1":19.2,"level":2},{"lon0":225.4,"lon1":227.1,"day0":15.3,"day1":15.8,"level":2},
{"lon0":143.4,"lon1":146.9,"day0":139.8,"day1":141.5,"level":-2},{"lon0":149.5,"lon1":151.2,"day0":139.3,"day1":139.9,"level":-2},{"lon0":161.2,"lon1":166,"day0":138.3,"day1":139.2,"level":-2},{"lon0":143,"lon1":145,"day0":138.7,"day1":139,"level":-2},{"lon0":142.3,"lon1":146.4,"day0":134.2,"day1":136,"level":-2},{"lon0":146.4,"lon1":153.6,"day0":134.5,"day1":136.1,"level":-2},{"lon0":142.5,"lon1":145.6,"day0":132.2,"day1":132.8,"level":-2},{"lon0":142.5,"lon1":144.7,"day0":130.4,"day1":130.8,"level":-2},{"lon0":148,"lon1":149.5,"day0":122.6,"day1":123.4,"level":-2},{"lon0":144,"lon1":145,"day0":122.4,"day1":122.8,"level":-2},{"lon0":162,"lon1":166,"day0":122.3,"day1":122.9,"level":-2},{"lon0":143.7,"lon1":147.1,"day0":118.8,"day1":120.1,"level":-2},{"lon0":142.3,"lon1":145.8,"day0":117.4,"day1":119.3,"level":-2},{"lon0":142.3,"lon1":148,"day0":115.8,"day1":117.4,"level":-2},{"lon0":148,"lon1":155.3,"day0":116.3,"day1":117.2,"level":-2},{"lon0":149.9,"lon1":152.3,"day0":119.2,"day1":120.1,"level":-2},{"lon0":155.8,"lon1":156.7,"day0":119.3,"day1":119.5,"level":-2},
{"lon0":142.3,"lon1":145.6,"day0":107.8,"day1":109,"level":-2},{"lon0":147.7,"lon1":150.8,"day0":108,"day1":109.3,"level":-2},{"lon0":145.1,"lon1":147.3,"day0":106.2,"day1":107.1,"level":-2},{"lon0":143.5,"lon1":145.2,"day0":102.4,"day1":102.7,"level":-2},{"lon0":145.1,"lon1":147,"day0":98,"day1":99,"level":-2},{"lon0":143.8,"lon1":145.1,"day0":96.2,"day1":96.6,"level":-2},{"lon0":142.3,"lon1":145.6,"day0":93.2,"day1":94.2,"level":-2},{"lon0":142.3,"lon1":144.3,"day0":91.9,"day1":93.2,"level":-2},{"lon0":147.5,"lon1":149.3,"day0":93.2,"day1":93.9,"level":-2},{"lon0":143.6,"lon1":146.2,"day0":89.8,"day1":90.5,"level":-2},{"lon0":145.6,"lon1":146.6,"day0":90.4,"day1":91.3,"level":-2},{"lon0":150.1,"lon1":151.7,"day0":91.1,"day1":91.6,"level":-2},
{"lon0":142.3,"lon1":146.4,"day0":74.9,"day1":77.6,"level":-2},{"lon0":146.4,"lon1":151.9,"day0":76.3,"day1":77,"level":-2},{"lon0":142.3,"lon1":148.4,"day0":62.5,"day1":64.1,"level":-2},{"lon0":147.7,"lon1":149.7,"day0":63.5,"day1":65.3,"level":-2},{"lon0":149.9,"lon1":153,"day0":62.5,"day1":63.8,"level":-2},{"lon0":152.3,"lon1":154.3,"day0":63.5,"day1":64.6,"level":-2},{"lon0":146.4,"lon1":147.3,"day0":59.9,"day1":60.4,"level":-2},{"lon0":142.3,"lon1":145.8,"day0":56.8,"day1":58.2,"level":-2},{"lon0":148,"lon1":149.7,"day0":56.1,"day1":57.7,"level":-2},{"lon0":142.3,"lon1":144.9,"day0":53.5,"day1":56.2,"level":-2},{"lon0":143.2,"lon1":146,"day0":53.5,"day1":54.9,"level":-2},{"lon0":142.3,"lon1":145.4,"day0":44.9,"day1":46.2,"level":-2},{"lon0":150.6,"lon1":152.5,"day0":43.3,"day1":44.5,"level":-2},{"lon0":142.5,"lon1":148.2,"day0":41.9,"day1":44.1,"level":-2},{"lon0":142.9,"lon1":145.7,"day0":32.8,"day1":33.9,"level":-2},{"lon0":143.6,"lon1":144.4,"day0":31.7,"day1":32,"level":-2},
{"lon0":143.6,"lon1":146.4,"day0":17.2,"day1":17.9,"level":-2},{"lon0":146.4,"lon1":147.4,"day0":17.5,"day1":18.9,"level":-2},{"lon0":146,"lon1":147,"day0":15.6,"day1":15.9,"level":-2},{"lon0":145,"lon1":147.2,"day0":3,"day1":3.9,"level":-2},{"lon0":144.3,"lon1":160.4,"day0":1,"day1":2.8,"level":-2},{"lon0":159,"lon1":168,"day0":3,"day1":4.2,"level":-2},{"lon0":159,"lon1":162,"day0":1,"day1":3,"level":-2},{"lon0":162,"lon1":170,"day0":1,"day1":2,"level":-2},{"lon0":224,"lon1":226.5,"day0":74.6,"day1":75.3,"level":-2},{"lon0":225.7,"lon1":228.3,"day0":56.8,"day1":57.7,"level":-2},
{"lon0":142.6,"lon1":145.2,"day0":147,"day1":148,"level":3},{"lon0":142.6,"lon1":147.2,"day0":144.4,"day1":146.3,"level":3},{"lon0":142.3,"lon1":144.5,"day0":104.7,"day1":105.3,"level":3},{"lon0":144.2,"lon1":146.2,"day0":103.7,"day1":105.7,"level":3},{"lon0":142.5,"lon1":144.5,"day0":103.3,"day1":104.2,"level":3},{"lon0":150.1,"lon1":152.1,"day0":103.9,"day1":104.3,"level":3},{"lon0":144.4,"lon1":146.4,"day0":100,"day1":100.5,"level":3},{"lon0":142.7,"lon1":144.4,"day0":100,"day1":100.3,"level":3},{"lon0":144.3,"lon1":147,"day0":86.2,"day1":87.7,"level":3},{"lon0":143.8,"lon1":145.8,"day0":85.5,"day1":86.2,"level":3},{"lon0":148.6,"lon1":150.8,"day0":87,"day1":87.8,"level":3},{"lon0":144.5,"lon1":146.6,"day0":81.6,"day1":83.2,"level":3},{"lon0":144.5,"lon1":146.9,"day0":78.7,"day1":79.2,"level":3},{"lon0":143,"lon1":146,"day0":66.2,"day1":68,"level":3},{"lon0":145.1,"lon1":146.7,"day0":52.4,"day1":52.9,"level":3},{"lon0":142.3,"lon1":146.2,"day0":35.9,"day1":37.9,"level":3},{"lon0":148.2,"lon1":151,"day0":35.9,"day1":38.2,"level":3},{"lon0":153.4,"lon1":155.6,"day0":36.5,"day1":38.2,"level":3},{"lon0":145.9,"lon1":147.3,"day0":30.9,"day1":31.7,"level":3},{"lon0":145.4,"lon1":147.4,"day0":25,"day1":26,"level":3},
{"lon0":142.4,"lon1":144.4,"day0":108,"day1":108.6,"level":-3},{"lon0":145.6,"lon1":146.4,"day0":106.6,"day1":106.8,"level":-3},{"lon0":145.3,"lon1":146.4,"day0":139.9,"day1":140.4,"level":-3},{"lon0":143.4,"lon1":144.9,"day0":135,"day1":135.5,"level":-3},{"lon0":147.4,"lon1":148.8,"day0":134.8,"day1":135.7,"level":-3},{"lon0":142.5,"lon1":144.9,"day0":117.8,"day1":118.8,"level":-3},{"lon0":144.9,"lon1":146.4,"day0":118.9,"day1":119.2,"level":-3},{"lon0":145.3,"lon1":146.2,"day0":119.7,"day1":120,"level":-3},{"lon0":148,"lon1":150,"day0":116.4,"day1":117.2,"level":-3},{"lon0":144.1,"lon1":145.2,"day0":116.8,"day1":117.3,"level":-3},{"lon0":142.5,"lon1":144.7,"day0":93.4,"day1":93.8,"level":-3},{"lon0":143.9,"lon1":146.9,"day0":75.7,"day1":77,"level":-3},{"lon0":142.5,"lon1":145.3,"day0":75,"day1":75.8,"level":-3},{"lon0":142.3,"lon1":147.7,"day0":62.5,"day1":63.5,"level":-3},{"lon0":148.4,"lon1":149.2,"day0":64,"day1":64.6,"level":-3},{"lon0":142.3,"lon1":145.8,"day0":57,"day1":58,"level":-3},{"lon0":143.3,"lon1":145.4,"day0":53.9,"day1":54.7,"level":-3},{"lon0":143.6,"lon1":144.3,"day0":55.8,"day1":56,"level":-3},{"lon0":142.5,"lon1":144.9,"day0":45,"day1":45.8,"level":-3},{"lon0":142.7,"lon1":147.7,"day0":42.1,"day1":43.8,"level":-3},{"lon0":144,"lon1":145,"day0":33.5,"day1":33.8,"level":-3},{"lon0":145.3,"lon1":146.7,"day0":3.4,"day1":3.9,"level":-3},{"lon0":144.7,"lon1":160.4,"day0":1,"day1":2.3,"level":-3},{"lon0":162,"lon1":164.3,"day0":1,"day1":1.6,"level":-3},
{"lon0":144.2,"lon1":145.8,"day0":75.5,"day1":76.7,"level":-4},{"lon0":142.7,"lon1":145.8,"day0":62.6,"day1":63.2,"level":-4},{"lon0":142.7,"lon1":145.1,"day0":57.2,"day1":57.8,"level":-4},{"lon0":145,"lon1":147.2,"day0":42.6,"day1":43.5,"level":-4},{"lon0":144.7,"lon1":157.3,"day0":1,"day1":2,"level":-4},
{"lon0":144.9,"lon1":145.8,"day0":104.7,"day1":105.5,"level":4},{"lon0":144.9,"lon1":146.4,"day0":86.5,"day1":87.4,"level":4},{"lon0":144.6,"lon1":145.3,"day0":85.5,"day1":86,"level":4},{"lon0":145.8,"lon1":146.8,"day0":25.3,"day1":25.9,"level":4},{"lon0":142.5,"lon1":146.2,"day0":36.8,"day1":37.8,"level":4},{"lon0":148.7,"lon1":150.5,"day0":36.5,"day1":38,"level":4},
{"lon0":144.8,"lon1":145.4,"day0":75.9,"day1":76.2,"level":-5},{"lon0":143.2,"lon1":145.2,"day0":62.7,"day1":63,"level":-5},{"lon0":143.2,"lon1":144.8,"day0":57.4,"day1":57.7,"level":-5},{"lon0":145,"lon1":146.3,"day0":1,"day1":1.9,"level":-5},{"lon0":148,"lon1":150.8,"day0":1,"day1":2.3,"level":-5},{"lon0":152,"lon1":153.5,"day0":1.4,"day1":1.8,"level":-5},
{"lon0":144,"lon1":146,"day0":36.6,"day1":37.7,"level":5},{"lon0":149.3,"lon1":149.8,"day0":37,"day1":37.4,"level":5}
]},"resolve":{"axis":{"x":"independent","y":"independent"}},"layer":[
{"mark":{"type":"rect","cornerRadius":5,"clip":true},"encoding":{
"x":{"field":"lon0","type":"quantitative","scale":{"domain":[142,240],"nice":false,"zero":false},"axis":{"orient":"bottom","title":null,"grid":false,"values":[150,165,180,195,210,225],"labelExpr":"datum.value==150?'150E':datum.value==180?'180':datum.value==210?'150W':''","labelFontSize":28,"labelColor":"black","labelPadding":18,"labelFlush":false,"labelOverlap":false,"tickColor":"black","domainColor":"black","domainWidth":3.5,"tickSize":{"condition":{"test":"datum.value==165||datum.value==195||datum.value==225","value":11},"value":26},"tickWidth":{"condition":{"test":"datum.value==165||datum.value==195||datum.value==225","value":1.5},"value":3}}},
"x2":{"field":"lon1"},
"y":{"field":"day1","type":"quantitative","scale":{"domain":[1,151.1],"nice":false,"zero":false},"axis":{"orient":"left","title":null,"grid":false,"values":[10,20,30,40,50,60,70,80,90,100,110,120,130,140,150],"labelFontSize":28,"labelColor":"black","labelPadding":19,"tickColor":"black","domainColor":"black","domainWidth":3.5,"tickSize":26,"tickWidth":3.5}},
"y2":{"field":"day0"},
"color":{"field":"level","type":"ordinal","legend":null,"scale":{"domain":[-5,-4,-3,-2,-1,0,1,2,3,4,5],"range":["#5a0080","#1e00d7","#0538b4","#0aa51a","#9fe3a0","#ffffff","#ffff9b","#ffff00","#ffbf00","#ff7000","#ff0000"]}}}},
{"mark":{"type":"rect","opacity":0},"encoding":{
"x":{"field":"lon0","type":"quantitative","axis":{"orient":"top","title":null,"grid":false,"labels":false,"values":[150,165,180,195,210,225],"tickColor":"black","domainColor":"black","domainWidth":3.5,"tickSize":12,"tickWidth":{"condition":{"test":"datum.value==165||datum.value==195||datum.value==225","value":1.5},"value":3}}},
"x2":{"field":"lon1"},
"y":{"field":"day1","type":"quantitative","axis":{"orient":"right","title":null,"grid":false,"labels":false,"values":[10,20,30,40,50,60,70,80,90,100,110,120,130,140,150],"tickColor":"black","domainColor":"black","domainWidth":3.5,"tickSize":24,"tickWidth":3.5}},
"y2":{"field":"day0"}}}
]},
{"width":751,"height":16,"data":{"values":[{"start":0,"end":1,"level":-5},{"start":1,"end":2,"level":-4},{"start":2,"end":3,"level":-3},{"start":3,"end":4,"level":-2},{"start":4,"end":5,"level":-1},{"start":5,"end":6,"level":0},{"start":6,"end":7,"level":1},{"start":7,"end":8,"level":2},{"start":8,"end":9,"level":3},{"start":9,"end":10,"level":4},{"start":10,"end":11,"level":5}]},
"mark":{"type":"rect","stroke":"#222222","strokeWidth":1.5},
"encoding":{"x":{"field":"start","type":"quantitative","scale":{"domain":[-0.656,11.656],"nice":false,"zero":false},"axis":{"title":null,"grid":false,"domain":false,"ticks":false,"values":[2,4,6,8,10],"labelExpr":"datum.value==2?'-1.6':datum.value==4?'-0.8':datum.value==6?'0.4':datum.value==8?'1.2':'2'","labelFontSize":40,"labelColor":"black","labelPadding":1,"labelOverlap":false}},"x2":{"field":"end"},
"color":{"field":"level","type":"ordinal","legend":null,"scale":{"domain":[-5,-4,-3,-2,-1,0,1,2,3,4,5],"range":["#5a0080","#1e00d7","#0538b4","#0aa51a","#9fe3a0","#ffffff","#ffff9b","#ffff00","#ffbf00","#ff7000","#ff0000"]}}}}
]}
